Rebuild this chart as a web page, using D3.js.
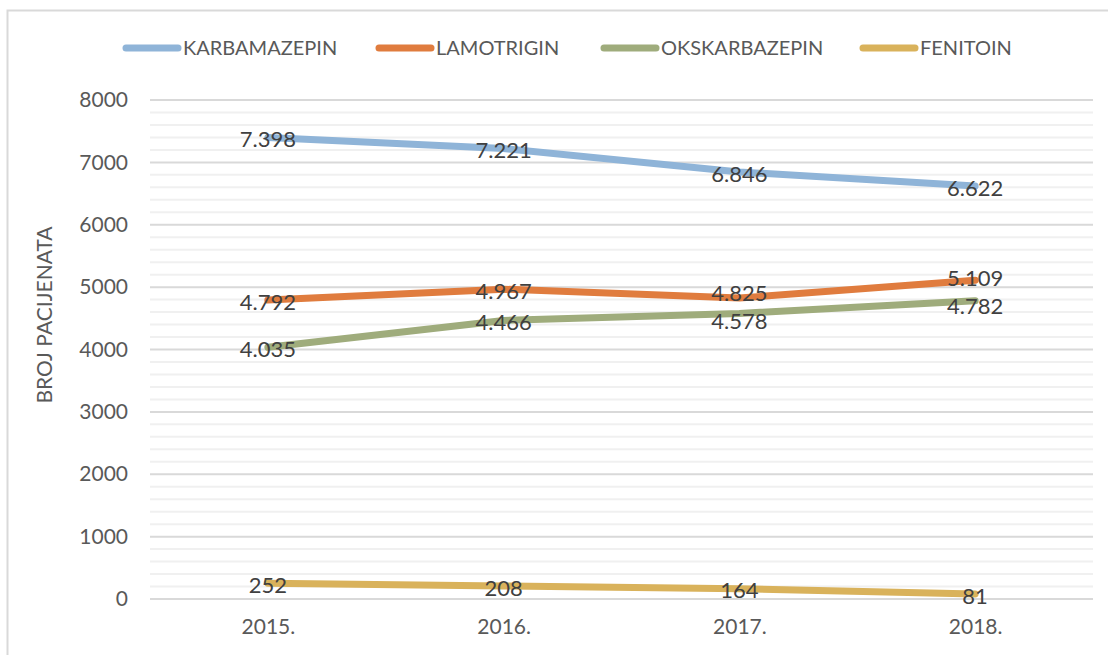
<!DOCTYPE html>
<html>
<head>
<meta charset="utf-8">
<script src="https://cdn.jsdelivr.net/npm/d3@7"></script>
<style>
  body { margin: 0; background: #fff; }
  text { font-family: Lato, "Open Sans", sans-serif; }
</style>
</head>
<body>
<svg id="chart" width="1108" height="655"></svg>
<script>
// data
const years = ["2015.", "2016.", "2017.", "2018."]
const seriesNames = ["KARBAMAZEPIN", "LAMOTRIGIN", "OKSKARBAZEPIN", "FENITOIN"]
const karbamazepin = [7398, 7221, 6846, 6622]
const lamotrigin = [4792, 4967, 4825, 5109]
const okskarbazepin = [4035, 4466, 4578, 4782]
const fenitoin = [252, 208, 164, 81]
const colors = ["#8fb4d8", "#e07c3e", "#9fac7c", "#d9b25b"]
const yTicks = [0, 1000, 2000, 3000, 4000, 5000, 6000, 7000, 8000]

const series = [karbamazepin, lamotrigin, okskarbazepin, fenitoin].map((v, i) => ({
    name: seriesNames[i], values: v, color: colors[i]
}))

const svg = d3.select("#chart")

// outer frame
svg.append("rect")
    .attr("x", 7.5).attr("y", 10.5)
    .attr("width", 1110).attr("height", 660)
    .attr("fill", "none").attr("stroke", "#d9d9d9").attr("stroke-width", 2)

const plotLeft = 150, plotRight = 1093, plotTop = 100, plotBottom = 599

const x = d3.scalePoint().domain(years).range([plotLeft, plotRight]).padding(0.5)
const y = d3.scaleLinear().domain([0, 8000]).range([plotBottom, plotTop])

// minor gridlines
const minor = d3.range(200, 8000, 200).filter(d => d % 1000 !== 0)
svg.append("g").selectAll("line").data(minor).enter().append("line")
    .attr("x1", plotLeft).attr("x2", plotRight)
    .attr("y1", d => y(d)).attr("y2", d => y(d))
    .attr("stroke", "#f0f0f0").attr("stroke-width", 2)

// major gridlines
svg.append("g").selectAll("line").data(yTicks).enter().append("line")
    .attr("x1", plotLeft).attr("x2", plotRight)
    .attr("y1", d => y(d)).attr("y2", d => y(d))
    .attr("stroke", "#d9d9d9").attr("stroke-width", 2)

// y axis labels
const yAxis = svg.append("g")
    .attr("transform", `translate(${plotLeft - 22},0)`)
    .call(d3.axisLeft(y).tickValues(yTicks).tickFormat(d3.format("d")).tickSize(0).tickPadding(0))
yAxis.select(".domain").remove()
yAxis.selectAll("text")
    .attr("font-size", 21).attr("fill", "#595959")
    .style("font-family", "Lato, sans-serif")

// x axis labels
const xAxis = svg.append("g")
    .attr("transform", `translate(0,${plotBottom + 20})`)
    .call(d3.axisBottom(x).tickSize(0).tickPadding(0))
xAxis.select(".domain").remove()
xAxis.selectAll("text")
    .attr("font-size", 21).attr("fill", "#595959")
    .style("font-family", "Lato, sans-serif")

// y axis title
svg.append("text")
    .attr("transform", "translate(52,315) rotate(-90)")
    .attr("text-anchor", "middle")
    .attr("font-size", 21).attr("fill", "#595959")
    .text("BROJ PACIJENATA")

// lines
const line = d3.line().x((d, i) => x(years[i])).y(d => y(d))
svg.append("g").selectAll("path").data(series).enter().append("path")
    .attr("d", d => line(d.values))
    .attr("fill", "none")
    .attr("stroke", d => d.color)
    .attr("stroke-width", 7)
    .attr("stroke-linejoin", "round")
    .attr("stroke-linecap", "round")

// data labels, pushed apart where two labels at one year collide
const fmt = v => v >= 1000 ? d3.format(".3f")(v / 1000) : String(v)
const labels = []
series.forEach(s => s.values.forEach((v, i) => labels.push({ v, i, ly: y(v) + 2 })))
years.forEach((yr, i) => {
    const col = labels.filter(l => l.i === i).sort((a, b) => a.ly - b.ly)
    for (let k = 1; k < col.length; k++) {
        const gap = col[k].ly - col[k - 1].ly
        if (gap < 28) {
            const push = (28 - gap) / 2
            col[k - 1].ly -= push
            col[k].ly += push
        }
    }
})
svg.append("g").selectAll("text").data(labels).enter().append("text")
    .attr("x", d => x(years[d.i]))
    .attr("y", d => d.ly)
    .attr("dy", "0.35em")
    .attr("text-anchor", "middle")
    .attr("font-size", 22).attr("fill", "#404040")
    .text(d => fmt(d.v))

// legend
const legendX = [123, 376, 601, 860]
const lg = svg.append("g").selectAll("g").data(series).enter().append("g")
    .attr("transform", (d, i) => `translate(${legendX[i]},48)`)
lg.append("line")
    .attr("x1", 3).attr("x2", 55)
    .attr("stroke", d => d.color).attr("stroke-width", 7)
    .attr("stroke-linecap", "round")
lg.append("text")
    .attr("x", 60).attr("dy", "0.35em")
    .attr("font-size", 20).attr("fill", "#595959")
    .text(d => d.name)
</script>
</body>
</html>
